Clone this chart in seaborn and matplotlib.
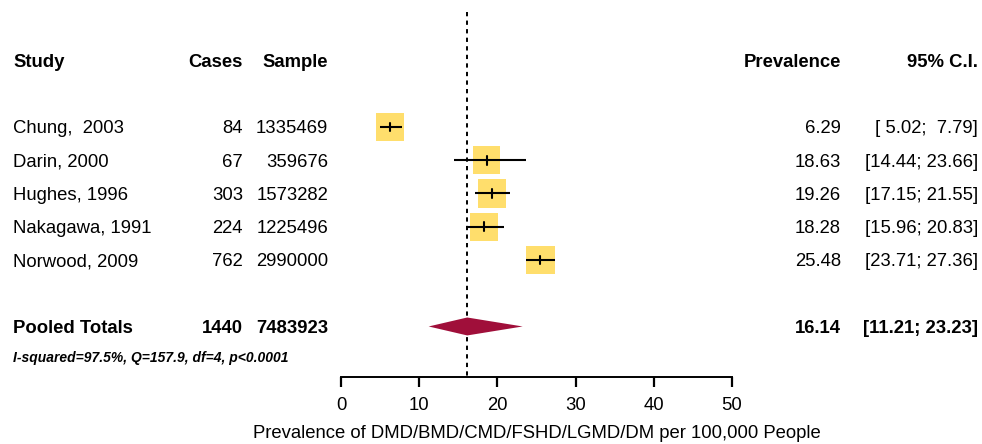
import matplotlib
matplotlib.use("Agg")
import matplotlib.pyplot as plt
import matplotlib.transforms as mtransforms
from matplotlib.patches import Polygon
import seaborn as sns
import pandas as pd

# ---- data ----
studies = ["Chung,  2003", "Darin, 2000", "Hughes, 1996", "Nakagawa, 1991", "Norwood, 2009"]
cases = [84, 67, 303, 224, 762]
samples = [1335469, 359676, 1573282, 1225496, 2990000]
prevalence = [6.29, 18.63, 19.26, 18.28, 25.48]
ci_low = [5.02, 14.44, 17.15, 15.96, 23.71]
ci_high = [7.79, 23.66, 21.55, 20.83, 27.36]
weights = [19.4, 19.3, 20.3, 20.2, 20.8]
pooled_label = "Pooled Totals"
pooled_cases = 1440
pooled_sample = 7483923
pooled_est = 16.14
pooled_low = 11.21
pooled_high = 23.23
het_text = "I-squared=97.5%, Q=157.9, df=4, p<0.0001"
xticks = [0, 10, 20, 30, 40, 50]
xlabel = "Prevalence of DMD/BMD/CMD/FSHD/LGMD/DM per 100,000 People"

sns.set_theme(style="ticks")
plt.rcParams["font.family"] = ["Liberation Sans", "DejaVu Sans"]
plt.rcParams["text.color"] = "black"
plt.rcParams["axes.labelcolor"] = "black"
plt.rcParams["xtick.color"] = "black"

W, H = 982, 444
fig = plt.figure(figsize=(W / 100, H / 100), dpi=100)
ax_h = 377
ax = fig.add_axes([341 / W, (H - ax_h) / H, 391 / W, ax_h / H])

rows = list(range(1, len(studies) + 1))
pooled_row = len(studies) + 2
header_row = -1

df = pd.DataFrame({"row": rows, "est": prevalence, "lo": ci_low, "hi": ci_high, "w": weights})
df["size"] = df["w"] / 20.0 * 406

# CI lines
for r, lo, hi, est in zip(rows, ci_low, ci_high, prevalence):
    ax.plot([lo, hi], [r, r], color="black", lw=1.5, zorder=3, solid_capstyle="butt")
    ax.plot([est, est], [r - 0.13, r + 0.13], color="black", lw=1.5, zorder=3)

# squares
sns.scatterplot(data=df, x="est", y="row", size="size", sizes=(df["size"].min(), df["size"].max()),
                marker="s", color="#FFDB5C", alpha=0.9, edgecolor="none", legend=False,
                ax=ax, zorder=2)

# pooled diamond
h = 0.27
diamond = Polygon([(pooled_low, pooled_row), (pooled_est, pooled_row - h),
                   (pooled_high, pooled_row), (pooled_est, pooled_row + h)],
                  closed=True, facecolor="#A00F3A", edgecolor="none", zorder=3)
ax.add_patch(diamond)

# reference dotted line
ax.plot([pooled_est, pooled_est], [-2.46, 8.52], color="black", lw=1.4,
        linestyle=(0, (2.2, 2.2)), zorder=1, clip_on=False)

ax.set_xlim(0, 50)
ax.set_ylim(8.52, -2.82)
ax.set_xticks(xticks)
ax.set_xticklabels([str(t) for t in xticks], fontsize=13.3)
ax.set_yticks([])
ax.set_ylabel("")
ax.tick_params(axis="x", direction="out", length=10 * 0.72, width=1.6, pad=7,
               bottom=True, color="black", labelcolor="black")
ax.xaxis.set_ticks_position("bottom")
for s in ["top", "left", "right"]:
    ax.spines[s].set_visible(False)
ax.spines["bottom"].set_color("black")
ax.spines["bottom"].set_linewidth(1.4)
ax.spines["bottom"].set_bounds(0, 50)
ax.set_xlabel(xlabel, fontsize=13.3, labelpad=8)

tr = mtransforms.blended_transform_factory(fig.transFigure, ax.transData)
fs = 13.3

def t(xpx, row, s, ha="left", bold=False, **kw):
    ax.text(xpx / W, row, s, transform=tr, ha=ha, va="center_baseline", fontsize=kw.pop("fontsize", fs),
            fontweight="bold" if bold else "normal", clip_on=False, color="black", **kw)

# headers
t(13, header_row, "Study", bold=True)
t(243, header_row, "Cases", ha="right", bold=True)
t(328, header_row, "Sample", ha="right", bold=True)
t(841, header_row, "Prevalence", ha="right", bold=True)
t(978, header_row, "95% C.I.", ha="right", bold=True)

for r, s, c, n, p, lo, hi in zip(rows, studies, cases, samples, prevalence, ci_low, ci_high):
    t(13, r, s)
    t(243, r, str(c), ha="right")
    t(328, r, str(n), ha="right")
    t(841, r, f"{p:.2f}", ha="right")
    t(978, r, f"[{lo:5.2f}; {hi:5.2f}]", ha="right")

t(13, pooled_row, pooled_label, bold=True)
t(243, pooled_row, str(pooled_cases), ha="right", bold=True)
t(328, pooled_row, str(pooled_sample), ha="right", bold=True)
t(841, pooled_row, f"{pooled_est:.2f}", ha="right", bold=True)
t(978, pooled_row, f"[{pooled_low:.2f}; {pooled_high:.2f}]", ha="right", bold=True)
t(13, pooled_row + 0.9, het_text, bold=True, fontsize=10, style="italic")

fig.savefig("out.png", dpi=100, facecolor="white")
